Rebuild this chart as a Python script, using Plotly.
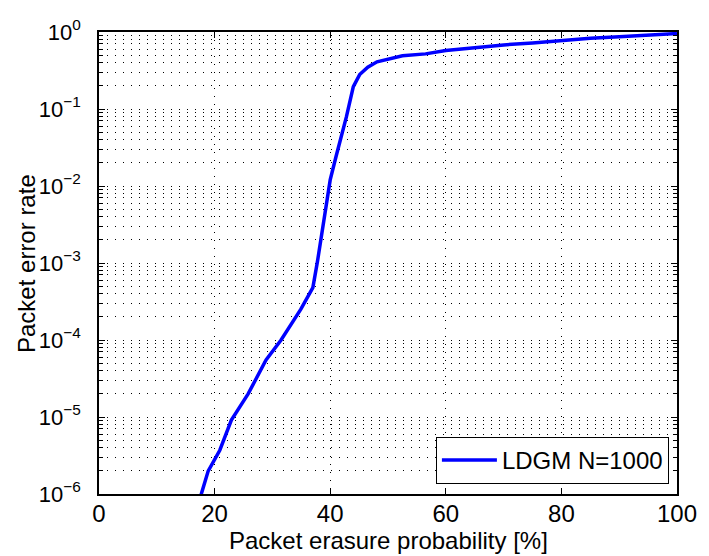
import plotly.graph_objects as go

# Data
erasure_prob = [17.3, 17.7, 18.9, 20.9, 22.9, 25.8, 28.9, 31.5, 34.9, 37.0, 37.8,
                38.9, 40.0, 41.0, 42.8, 44.0, 45.1, 46.5, 48.1, 52.5, 56.5,
                60.0, 65.0, 70.0, 75.0, 80.0, 85.0, 90.0, 95.0, 100.0]
packet_error_rate = [7.0e-7, 1.0e-6, 2.0e-6, 3.7e-6, 9.1e-6, 2.0e-5, 5.5e-5, 1.0e-4,
                     2.5e-4, 4.8e-4, 1.05e-3, 3.6e-3, 1.2e-2, 2.4e-2, 7.9e-2,
                     0.195, 0.28, 0.35, 0.41, 0.49, 0.52, 0.575, 0.63, 0.68,
                     0.72, 0.78, 0.83, 0.87, 0.92, 0.955]

x_tick_vals = [0, 20, 40, 60, 80, 100]
y_tick_vals = [1e-6, 1e-5, 1e-4, 1e-3, 1e-2, 1e-1, 1]
y_tick_text = ["10<sup>\u22126</sup>", "10<sup>\u22125</sup>", "10<sup>\u22124</sup>",
               "10<sup>\u22123</sup>", "10<sup>\u22122</sup>", "10<sup>\u22121</sup>",
               "10<sup>0</sup>"]

FONT = "Liberation Sans, Arial, Helvetica, sans-serif"
GRID_DASH = "1px,7px"

fig = go.Figure()
fig.add_trace(go.Scatter(
    x=erasure_prob, y=packet_error_rate, mode="lines",
    name="LDGM N=1000",
    line=dict(color="#0000FF", width=3.5),
))

fig.update_layout(
    width=709, height=556,
    margin=dict(l=99, r=24, t=32, b=62),
    paper_bgcolor="white", plot_bgcolor="white",
    font=dict(family=FONT, color="black"),
    showlegend=True,
    legend=dict(
        x=0.986, xanchor="right", y=0.0216, yanchor="bottom",
        bgcolor="white", bordercolor="black", borderwidth=1,
        font=dict(size=24, family=FONT, color="black"),
        itemwidth=55,
    ),
    xaxis=dict(
        range=[0, 100], tickvals=x_tick_vals,
        showline=True, linecolor="black", linewidth=1.5, mirror="allticks",
        ticks="inside", ticklen=6, tickcolor="black", tickwidth=1,
        showgrid=True, gridcolor="#000000", gridwidth=1, griddash=GRID_DASH,
        zeroline=False, tickfont=dict(size=24, family=FONT, color="black"),
        ticklabelstandoff=-3,
    ),
    yaxis=dict(
        type="log", range=[-6, 0], tickvals=y_tick_vals, ticktext=y_tick_text,
        showline=True, linecolor="black", linewidth=1.5, mirror="allticks",
        ticks="inside", ticklen=6, tickcolor="black", tickwidth=1,
        showgrid=True, gridcolor="#000000", gridwidth=1, griddash=GRID_DASH,
        zeroline=False, tickfont=dict(size=22, family=FONT, color="black"),
        ticklabelstandoff=12,
        minor=dict(dtick="D1", showgrid=True, gridcolor="#000000", gridwidth=1,
                   griddash=GRID_DASH, ticks="inside", ticklen=4,
                   tickcolor="black", tickwidth=1),
    ),
    annotations=[
        dict(text="Packet erasure probability [%]", xref="paper", yref="paper",
             x=0.5, y=-0.0996, xanchor="center", yanchor="middle", showarrow=False,
             font=dict(size=24, family=FONT, color="black")),
        dict(text="Packet error rate", xref="paper", yref="paper",
             x=-0.1263, y=0.5, xanchor="center", yanchor="middle", showarrow=False,
             textangle=-90, font=dict(size=24, family=FONT, color="black")),
    ],
)

fig.write_html("out.html")
